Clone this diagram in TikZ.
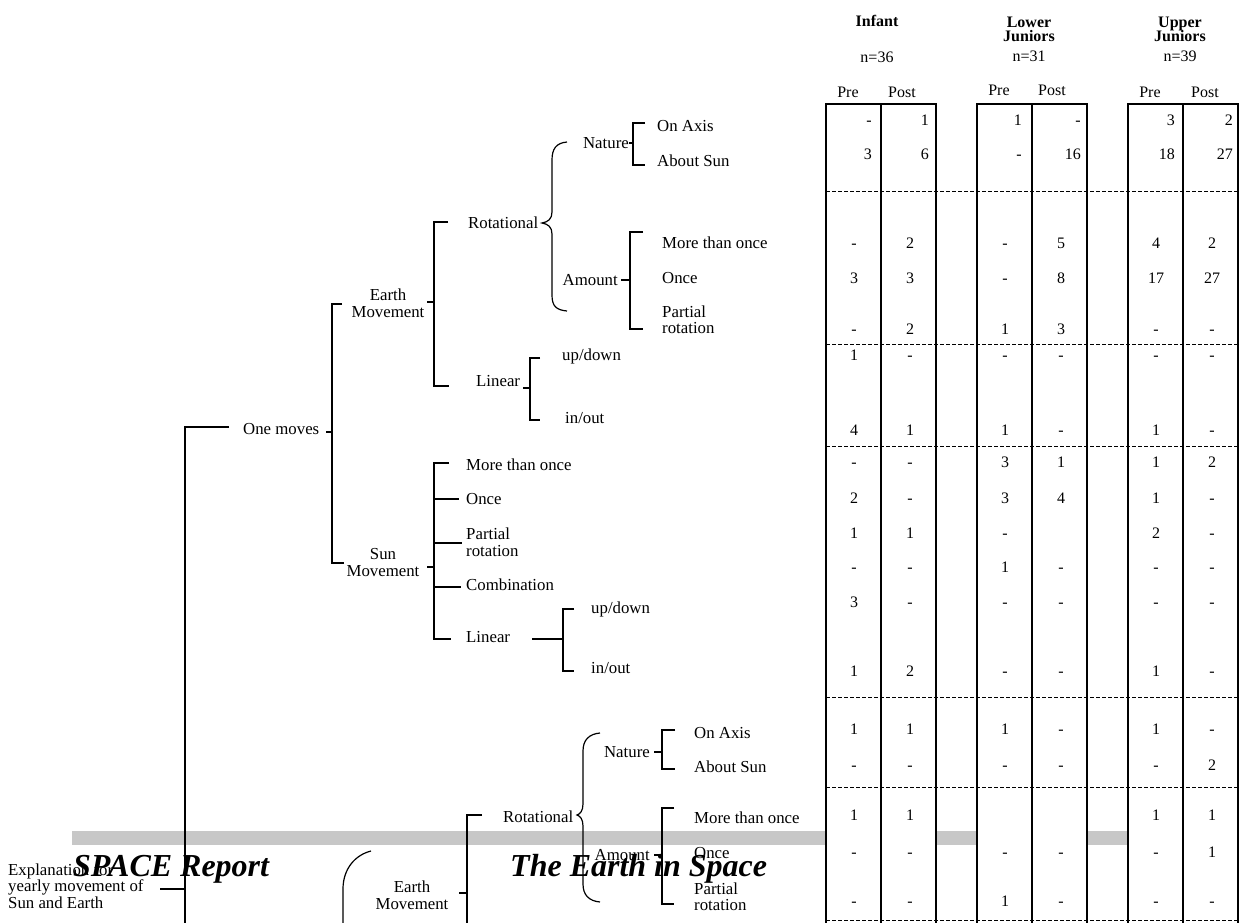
\documentclass[tikz,border=0pt]{standalone}
\usepackage{fontspec}
\setmainfont{Liberation Serif}
\begin{document}
\begin{tikzpicture}[x=1pt,y=-1pt,
  lbl/.style={font=\fontsize{16.8}{16.5}\selectfont, inner sep=0pt, anchor=base west},
  lble/.style={lbl, anchor=base east},
  lblm/.style={font=\fontsize{16.8}{16.5}\selectfont, inner sep=0pt, align=left, anchor=west},
  lblc/.style={font=\fontsize{16.8}{16.5}\selectfont, inner sep=0pt, align=center},
  num/.style={font=\fontsize{16}{16}\selectfont, inner sep=0pt, anchor=base},
  numr/.style={num, anchor=base east},
  hdr/.style={font=\bfseries\fontsize{16}{16.5}\selectfont, inner sep=0pt, align=center},
  sub/.style={font=\fontsize{16}{16}\selectfont, inner sep=0pt},
  tl/.style={line width=1.2pt},
  colline/.style={line width=1.5pt},
  dsh/.style={line width=1pt, dash pattern=on 4pt off 2pt},
  ttl/.style={font=\bfseries\itshape\fontsize{32}{32}\selectfont, inner sep=0pt, anchor=base west}]

\useasboundingbox (0,0) rectangle (1242,923);

% grey page rule
\fill[black!22] (72,831) rectangle (1128,845);

% table columns
\foreach \xl in {826,977,1128}{
  \fill[white] (\xl,104) rectangle (\xl+110,930);
  \draw[colline] (\xl,930) -- (\xl,104) -- (\xl+110,104) -- (\xl+110,930);
  \draw[colline] (\xl+55,104) -- (\xl+55,930);
}
\foreach \yy in {191,344,446,697,787,920}{
  \draw[dsh] (826,\yy) -- (1238,\yy);
}

% headers
\node[hdr] (hInf) at (877,21) {Infant};
\node[hdr] (hLow) at (1029,29.5) {Lower\\[-2.5pt]Juniors};
\node[hdr] (hUp) at (1180,29.5) {Upper\\[-2.5pt]Juniors};
\node[sub] (nInf) at (877,57) {n=36};
\node[sub] (nLow) at (1029,56) {n=31};
\node[sub] (nUp) at (1180,56) {n=39};
\node[sub] (p1) at (848,92) {Pre};
\node[sub] (q1) at (902,92) {Post};
\node[sub] (p2) at (999,90) {Pre};
\node[sub] (q2) at (1052,90) {Post};
\node[sub] (p3) at (1150,92) {Pre};
\node[sub] (q3) at (1205,92) {Post};

% numbers, right aligned rows
\foreach \yy/\vals in {121/{-,1,1,-,3,2}, 155/{3,6,-,16,18,27}}{
  \foreach \v [count=\c] in \vals {
    \pgfmathsetmacro\xx{{872,929,1022,1081,1175,1233}[\c-1]}
    \node[numr] (n\yy-\c) at (\xx,\yy+5) {\v};
  }
}
% numbers, centred rows
\foreach \yy/\vals in {243/{-,2,-,5,4,2}, 278/{3,3,-,8,17,27}, 329/{-,2,1,3,-,-},
  355/{1,-,-,-,-,-}, 430/{4,1,1,-,1,-}, 462/{-,-,3,1,1,2}, 498/{2,-,3,4,1,-},
  533/{1,1,-,{},2,-}, 567/{-,-,1,-,-,-}, 602/{3,-,-,-,-,-}, 671/{1,2,-,-,1,-},
  729/{1,1,1,-,1,-}, 765/{-,-,-,-,-,2}, 815/{1,1,{},{},1,1}, 852/{-,-,-,-,-,1},
  901/{-,-,1,-,-,-}}{
  \foreach \v [count=\c] in \vals {
    \pgfmathsetmacro\xx{{854,910,1005,1061,1156,1212}[\c-1]}
    \node[num] (n\yy-\c) at (\xx,\yy+5) {\v};
  }
}

% ---------- tree, upper part ----------
\node[lbl] (oax1) at (657,131.5) {On Axis};
\node[lbl] (asun1) at (657,166.5) {About Sun};
\node[lble] (nat1) at (629,148.5) {Nature};
\draw[tl] (nat1.base east) ++(0,-5.5) -- ++(4,0);
\draw[tl] (645,123) -- (633,123) -- (633,165) -- (645,165);

\node[lbl] (rot1) at (468,228.5) {Rotational};
\draw[tl] (567,142) .. controls (556,143) and (552,149) .. (552,160) -- (552,212)
  .. controls (552,219) and (548,222) .. (542,223)
  .. controls (548,224) and (552,227) .. (552,234) -- (552,295)
  .. controls (552,306) and (556,310) .. (567,311);

\node[lble] (amt1) at (618,285.5) {Amount};
\draw[tl] (621,280) -- (630,280);
\draw[tl] (643,232) -- (630,232) -- (630,329) -- (643,329);
\node[lbl] (mto1) at (662,248.5) {More than once};
\node[lbl] (once1) at (662,283.5) {Once};
\node[lblm] (part1) at (662,320) {Partial\\rotation};

\node[lblc] (em1) at (388,303.5) {Earth\\Movement};
\draw[tl] (427,302) -- (434,302);
\draw[tl] (448,222) -- (434,222) -- (434,386) -- (449,386);

\node[lbl] (lin1) at (476,386.5) {Linear};
\draw[tl] (523,388) -- (530,388);
\draw[tl] (540,358) -- (530,358) -- (530,420) -- (540,420);
\node[lbl] (ud1) at (562,360.5) {up/down};
\node[lbl] (io1) at (565,423.5) {in/out};

\node[lbl] (one) at (243,434.5) {One moves};
\draw[tl] (326,432) -- (332,432);
\draw[tl] (342,304) -- (332,304) -- (332,563) -- (344,563);
\draw[tl] (229,427) -- (185,427) -- (185,930);

\node[lblc] (sm) at (383,562.5) {Sun\\Movement};
\draw[tl] (427,567) -- (434,567);
\draw[tl] (449,463) -- (434,463) -- (434,639) -- (451,639);
\draw[tl] (434,499) -- (459,499);
\draw[tl] (434,543) -- (462,543);
\draw[tl] (434,587) -- (461,587);
\node[lbl] (mto2) at (466,470.5) {More than once};
\node[lbl] (once2) at (466,504.5) {Once};
\node[lblm] (part2) at (466,542) {Partial\\rotation};
\node[lbl] (comb) at (466,590.5) {Combination};
\node[lbl] (lin2) at (466,642.5) {Linear};
\draw[tl] (532,639) -- (563,639);
\draw[tl] (574,609) -- (563,609) -- (563,671) -- (574,671);
\node[lbl] (ud2) at (591,613.5) {up/down};
\node[lbl] (io2) at (591,673.5) {in/out};

% ---------- tree, lower part ----------
\node[lbl] (rot2) at (503,822.5) {Rotational};
\draw[tl] (600,733) .. controls (589,734) and (583,740) .. (583,751) -- (583,804)
  .. controls (583,811) and (580,814) .. (577,815)
  .. controls (580,816) and (583,819) .. (583,826) -- (583,884)
  .. controls (583,895) and (589,901) .. (600,902);

\node[lble] (nat2) at (650,757.5) {Nature};
\draw[tl] (654,752) -- (662,752);
\draw[tl] (675,730) -- (662,730) -- (662,769) -- (675,769);
\node[lbl] (oax2) at (694,738.5) {On Axis};
\node[lbl] (asun2) at (694,772.5) {About Sun};

\node[lble] (amt2) at (650,860.5) {Amount};
\draw[tl] (654,855) -- (662,855);
\draw[tl] (674,808) -- (662,808) -- (662,904) -- (674,904);
\node[lbl] (mto3) at (694,823.5) {More than once};
\node[lbl] (once3) at (694,858.5) {Once};
\node[lblm] (part3) at (694,896.5) {Partial\\rotation};

\node[lblc] (em2) at (412,895) {Earth\\Movement};
\draw[tl] (459,893) -- (467,893);
\draw[tl] (482,815) -- (467,815) -- (467,930);

\draw[tl] (371,851) .. controls (355,855) and (343,869) .. (343,889) -- (343,930);

\node[lblm] (expl) at (8,886) {Explanation for\\yearly movement of\\Sun and Earth};
\draw[tl] (160,889) -- (185,889);

% page header text
\node[ttl] (t1) at (73,876) {SPACE Report};
\node[ttl] (t2) at (510,876) {The Earth in Space};
\end{tikzpicture}
\end{document}
